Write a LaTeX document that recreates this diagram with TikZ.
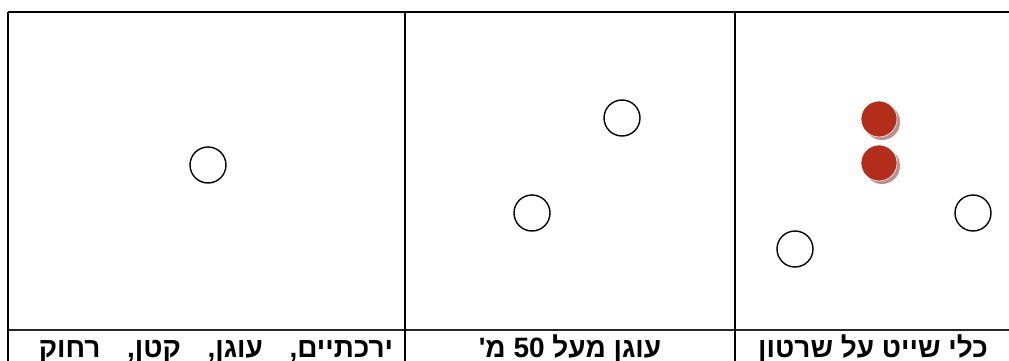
\documentclass[tikz,border=0pt]{standalone}
\usepackage{fontspec}
\setmainfont{Liberation Sans}
\TeXXeTstate=1
\newfontfamily\hebfont[Script=Hebrew]{Liberation Sans}
\definecolor{buoyred}{HTML}{B32E1A}
\definecolor{buoyshadow}{HTML}{BF8E8C}
\tikzset{
  grid/.style={line width=2pt, black},
  rowline/.style={line width=1.8pt, black!85},
  buoy/.style={circle, draw=black, line width=1.4pt, minimum size=36pt, inner sep=0pt},
  redbuoy/.style={circle, fill=buoyred, draw=white, line width=0.6pt, minimum size=36pt, inner sep=0pt},
  redshadow/.style={circle, fill=buoyshadow, minimum size=36pt, inner sep=0pt},
  label/.style={anchor=base, font=\hebfont\bfseries\fontsize{28}{30}\selectfont, inner sep=0pt}
}
\begin{document}
\begin{tikzpicture}[x=1pt,y=-1pt]
\useasboundingbox (0,0) rectangle (1009,361);
\coordinate (tl) at (7.5,12);
\coordinate (tr) at (1010,12);
\coordinate (ml) at (7.5,330);
\coordinate (mr) at (1010,330);
\coordinate (bl) at (7.5,370);
\coordinate (t1) at (405,12);
\coordinate (b1) at (405,370);
\coordinate (t2) at (735,12);
\coordinate (b2) at (735,370);
\draw[grid] (tl) -- (tr);
\draw[rowline] (ml) -- (mr);
\draw[grid] (tl) -- (bl);
\draw[grid] (t1) -- (b1);
\draw[grid] (t2) -- (b2);
% left panel
\node[buoy] (c1) at (208,165) {};
% middle panel
\node[buoy] (c2) at (622,118) {};
\node[buoy] (c3) at (532,213) {};
% right panel
\node[buoy] (c4) at (795,249) {};
\node[buoy] (c5) at (973,213) {};
\node[redshadow] (s1) at (882,122) {};
\node[redbuoy] (r1) at (879,119) {};
\node[redshadow] (s2) at (882,166) {};
\node[redbuoy] (r2) at (879,163) {};
% labels
\node[label] (l3) at (873,357) {\beginR כלי שייט על שרטון\endR};
\node[label] (l2) at (570,357) {\beginR עוגן מעל \beginL 50\endL{} מ'\endR};
\node[label] (l1) at (216,357) {\beginR ירכתיים,\hspace{0.95em}עוגן,\hspace{0.95em}קטן,\hspace{0.95em}רחוק\endR};
\end{tikzpicture}
\end{document}
